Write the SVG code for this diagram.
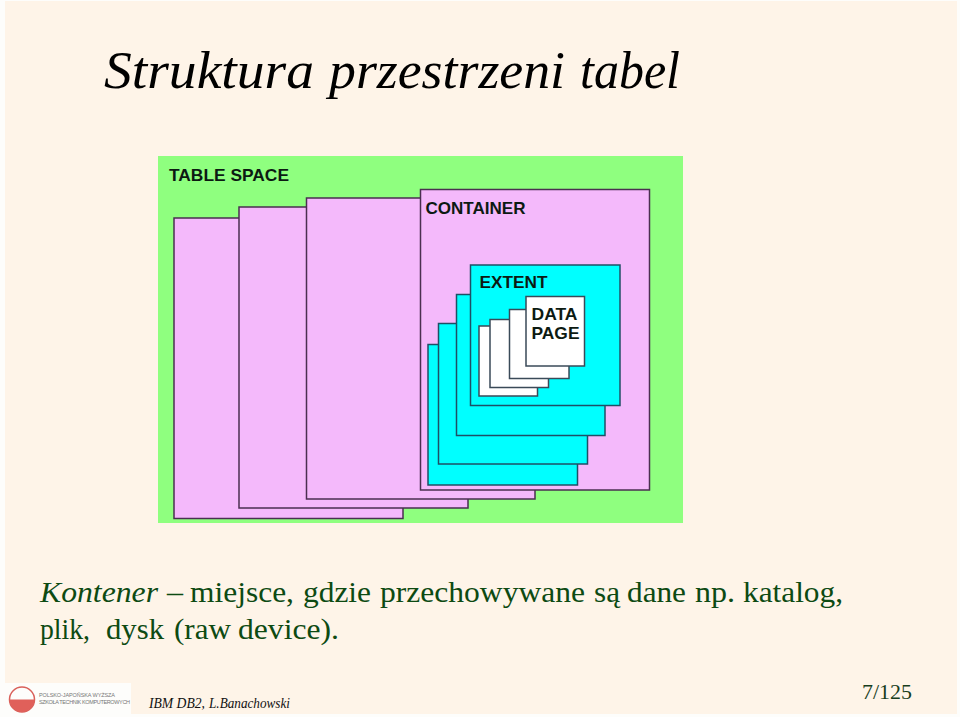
<svg xmlns="http://www.w3.org/2000/svg" width="960" height="717" viewBox="0 0 960 717">
<style>
.s{font-family:"Liberation Serif",serif}
.i{font-style:italic}
.h{font-family:"Liberation Sans",Arial,sans-serif;font-weight:bold;font-size:16.500px;fill:#0c1a12}
.c{fill:#f4b9fb;stroke:#4a2f50;stroke-width:1.5}
.e{fill:#00ffff;stroke:#1f4f66;stroke-width:1.5}
.p{fill:#fff;stroke:#3a4a58;stroke-width:1.5}
.b{font-size:29px;fill:#0d4a12}
</style>
<rect width="960" height="717" fill="#fdfdfb"/>
<rect x="5" y="1" width="952" height="713" fill="#fef4e8"/>
<text class="s i" y="88" font-size="52"><tspan x="104" textLength="210" lengthAdjust="spacingAndGlyphs">Struktura</tspan> <tspan x="329" textLength="236" lengthAdjust="spacingAndGlyphs">przestrzeni</tspan> <tspan x="580" textLength="100" lengthAdjust="spacingAndGlyphs">tabel</tspan></text>
<g id="tablespace">
<rect x="158" y="156" width="525" height="367" fill="#8fff7f"/>
<text class="h" x="169" y="181" textLength="120" lengthAdjust="spacingAndGlyphs">TABLE SPACE</text>
</g>
<g id="container-1"><rect class="c" x="174" y="218" width="229" height="300.500"/></g>
<g id="container-2"><rect class="c" x="239" y="207" width="229" height="301"/></g>
<g id="container-3"><rect class="c" x="306.500" y="198" width="228.500" height="301"/></g>
<g id="container-4">
<rect class="c" x="420.500" y="189.500" width="229" height="300.500"/>
<text class="h" x="425.500" y="214" textLength="100" lengthAdjust="spacingAndGlyphs">CONTAINER</text>
</g>
<g id="extent-1"><rect class="e" x="428" y="344.500" width="149.500" height="140.500"/></g>
<g id="extent-2"><rect class="e" x="438.500" y="323.500" width="149" height="140.500"/></g>
<g id="extent-3"><rect class="e" x="456.500" y="294.500" width="148.500" height="141"/></g>
<g id="extent-4">
<rect class="e" x="470.500" y="265" width="149.500" height="140.500"/>
<text class="h" x="479.500" y="288" textLength="68" lengthAdjust="spacingAndGlyphs">EXTENT</text>
</g>
<g id="page-1"><rect class="p" x="479" y="326" width="58.500" height="70"/></g>
<g id="page-2"><rect class="p" x="490" y="319.500" width="58.500" height="68"/></g>
<g id="page-3"><rect class="p" x="509.500" y="309.500" width="59.500" height="69"/></g>
<g id="page-4">
<rect class="p" x="526" y="296.500" width="58.500" height="69.500"/>
<text class="h" x="531.500" y="320" textLength="46" lengthAdjust="spacingAndGlyphs">DATA</text>
<text class="h" x="531.500" y="338.500" textLength="48" lengthAdjust="spacingAndGlyphs">PAGE</text>
</g>
<g id="connectors"></g>
<text class="s b" y="602"><tspan class="i" x="40" textLength="118" lengthAdjust="spacingAndGlyphs">Kontener</tspan> <tspan x="167" textLength="16" lengthAdjust="spacingAndGlyphs">–</tspan> <tspan x="190" textLength="104" lengthAdjust="spacingAndGlyphs">miejsce,</tspan> <tspan x="303" textLength="68" lengthAdjust="spacingAndGlyphs">gdzie</tspan> <tspan x="380" textLength="205" lengthAdjust="spacingAndGlyphs">przechowywane</tspan> <tspan x="594" textLength="26" lengthAdjust="spacingAndGlyphs">są</tspan> <tspan x="627" textLength="59" lengthAdjust="spacingAndGlyphs">dane</tspan> <tspan x="695" textLength="40" lengthAdjust="spacingAndGlyphs">np.</tspan> <tspan x="743" textLength="100" lengthAdjust="spacingAndGlyphs">katalog,</tspan></text>
<text class="s b" y="639"><tspan x="40" textLength="50" lengthAdjust="spacingAndGlyphs">plik,</tspan> <tspan x="106" textLength="58" lengthAdjust="spacingAndGlyphs">dysk</tspan> <tspan x="174" textLength="57" lengthAdjust="spacingAndGlyphs">(raw</tspan> <tspan x="238" textLength="101" lengthAdjust="spacingAndGlyphs">device).</tspan></text>
<g id="logo">
<rect x="5" y="683" width="126" height="31" fill="#fdfdfb"/>
<circle cx="22" cy="699.500" r="12.500" fill="#fdfdfb" stroke="#d9605a" stroke-width="1.500"/>
<path d="M9.500 699.500H34.500A12.500 12.500 0 0 1 9.500 699.500Z" fill="#e0605a"/>
<text x="39" y="697" font-family="Liberation Sans,sans-serif" font-size="5.500" fill="#777" textLength="76" lengthAdjust="spacing">POLSKO-JAPOŃSKA WYŻSZA</text>
<text x="39" y="704" font-family="Liberation Sans,sans-serif" font-size="5.500" fill="#777" textLength="91" lengthAdjust="spacing">SZKOŁA TECHNIK KOMPUTEROWYCH</text>
</g>
<text class="s i" y="708" font-size="15" fill="#111"><tspan x="149" textLength="56" lengthAdjust="spacingAndGlyphs">IBM DB2,</tspan> <tspan x="209" textLength="81" lengthAdjust="spacingAndGlyphs">L.Banachowski</tspan></text>
<text class="s" x="862" y="699" font-size="20" fill="#173d1c" textLength="50" lengthAdjust="spacingAndGlyphs">7/125</text>
</svg>
